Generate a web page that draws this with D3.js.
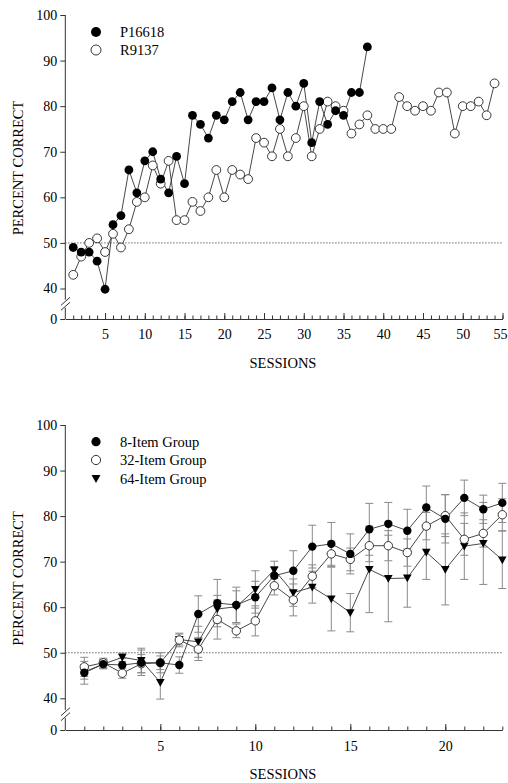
<!DOCTYPE html>
<html>
<head>
<meta charset="utf-8">
<script src="https://cdn.jsdelivr.net/npm/d3@7"></script>
<style>
  body { margin: 0; background: #fff; }
  svg text { font-family: "Liberation Serif", "Times New Roman", serif; }
</style>
</head>
<body>
<div id="chart"></div>
<script>
// --- top panel: two subjects
var topSeriesNames = ['P16618', 'R9137'];
var p16618 = [49,48,48,46,39,54,56,66,61,68,70,64,61,69,63,78,76,73,78,77,81,83,77,81,81,84,77,83,80,85,72,81,76,79,78,83,83,93];
var r9137 = [43,47,50,51,48,52,49,53,59,60,67,63,68,55,55,59,57,60,66,60,66,65,64,73,72,69,75,69,73,80,69,75,81,80,79,74,76,78,75,75,75,82,80,79,80,79,83,83,74,80,80,81,78,85];
var topXTicks = [5,10,15,20,25,30,35,40,45,50,55];

// --- bottom panel: group means and error
var groupNames = ['8-Item Group', '32-Item Group', '64-Item Group'];
var group8 = [45.6,47.5,47.3,47.8,47.8,47.3,58.5,60.9,60.5,62.2,66.9,68.0,73.3,73.9,71.7,77.1,78.3,76.8,81.9,79.4,84.0,81.5,82.9];
var err8 = [2.5,1.0,1.5,2.8,1.5,1.8,4.0,5.2,3.9,3.5,2.0,4.4,4.7,4.7,4.4,5.7,4.7,4.7,4.7,5.3,3.9,3.1,4.3];
var group32 = [46.9,47.8,45.5,47.6,47.8,52.8,50.8,57.3,54.8,57.0,64.7,61.6,66.8,71.7,70.5,73.5,73.5,72.0,77.8,80.1,74.9,76.2,80.3];
var err32 = [2.1,1.0,1.1,2.0,2.2,1.5,2.5,4.3,1.5,3.3,2.0,3.5,2.5,2.8,2.5,3.5,3.3,3.0,3.0,4.6,3.5,3.0,3.5];
var group64 = [45.8,47.5,49.0,48.3,43.5,52.9,52.4,59.6,60.1,63.9,68.2,63.2,64.4,61.8,58.8,68.3,66.3,66.4,72.1,68.3,73.4,74.0,70.4];
var err64 = [1.6,1.0,0.9,2.7,4.5,1.2,3.4,3.0,3.5,4.1,1.9,3.0,3.5,7.0,4.2,9.5,9.5,6.4,6.0,7.8,7.3,9.0,6.3];
var bottomXTicks = [5,10,15,20];

var yTicks = [0,40,50,60,70,80,90,100];
var chance = 50;

var W = 508, H = 783;
var svg = d3.select('#chart').append('svg')
  .attr('width', W)
  .attr('height', H);

var font = '"Liberation Serif", "Times New Roman", serif';

function panel(opt) {
  var g = svg.append('g');

  var x = d3.scaleLinear().domain([0, opt.xMax]).range([65.3, opt.xRight]);
  // broken axis: 0 sits below 40
  var y = d3.scaleLinear().domain([0, 40, 100]).range([opt.y0, opt.y40, opt.y100]);

  // y axis
  var yAxis = d3.axisLeft(y).tickValues(yTicks).tickSize(5).tickPadding(3);
  var yG = g.append('g')
    .attr('transform', 'translate(65.3,0)')
    .call(yAxis);
  yG.select('.domain').remove();
  yG.selectAll('text').style('font-size', '14px').style('font-family', font);
  yG.selectAll('line').attr('stroke', '#333');

  var breakY = (opt.y0 + opt.y40) / 2;
  g.append('line')
    .attr('x1', 65.3).attr('x2', 65.3)
    .attr('y1', opt.y100).attr('y2', breakY - 4)
    .attr('stroke', '#333');
  g.append('line')
    .attr('x1', 65.3).attr('x2', 65.3)
    .attr('y1', breakY + 4).attr('y2', opt.y0)
    .attr('stroke', '#333');
  [-2.5, 2.5].forEach(function(o) {
    g.append('line')
      .attr('x1', 61).attr('y1', breakY + o + 4)
      .attr('x2', 70).attr('y2', breakY + o - 4)
      .attr('stroke', '#333');
  });

  // x axis, minor then major
  var minor = d3.axisBottom(x).tickValues(d3.range(1, opt.xMax + 1))
    .tickSize(-3.5).tickSizeOuter(0).tickFormat('');
  var mG = g.append('g')
    .attr('transform', 'translate(0,' + opt.y0 + ')')
    .call(minor);
  mG.selectAll('line').attr('stroke', '#333');
  mG.select('.domain').attr('stroke', '#333');

  var major = d3.axisBottom(x).tickValues(opt.xTicks)
    .tickSize(-6).tickSizeOuter(0).tickPadding(opt.pad);
  var xG = g.append('g')
    .attr('transform', 'translate(0,' + opt.y0 + ')')
    .call(major);
  xG.select('.domain').remove();
  xG.selectAll('line').attr('stroke', '#333');
  xG.selectAll('text').style('font-size', '14px').style('font-family', font);
  // keep the last label inside the page
  xG.selectAll('text').filter(function(d) { return x(d) > W - 10; })
    .attr('text-anchor', 'end').attr('x', W - 1 - x(opt.xMax));

  // chance line
  g.append('line')
    .attr('x1', x(0)).attr('x2', x(opt.xMax))
    .attr('y1', y(chance)).attr('y2', y(chance))
    .attr('stroke', '#444')
    .attr('stroke-width', 1)
    .attr('stroke-dasharray', '1.2,1.8');

  // titles
  g.append('text')
    .attr('x', 283).attr('y', opt.y0 + 49)
    .attr('text-anchor', 'middle')
    .style('font-size', '14.5px')
    .text('SESSIONS');
  g.append('text')
    .attr('transform', 'translate(23,' + ((opt.y100 + opt.y0) / 2 + 1) + ') rotate(-90)')
    .attr('text-anchor', 'middle')
    .style('font-size', '14.5px')
    .text('PERCENT CORRECT');

  return { g: g, x: x, y: y };
}

function tri(cx, cy, s) {
  return 'M' + (cx - s) + ',' + (cy - s * 0.8) + 'L' + (cx + s) + ',' + (cy - s * 0.8) + 'L' + cx + ',' + (cy + s) + 'Z';
}

// ---------- top
var P1 = panel({ xMax: 55, xRight: 502.5, y0: 319, y40: 288.5, y100: 15, xTicks: topXTicks, pad: 10 });

var line1 = d3.line()
  .x(function(d, i) { return P1.x(i + 1); })
  .y(function(d) { return P1.y(d); });

[r9137, p16618].forEach(function(s) {
  P1.g.append('path')
    .attr('d', line1(s))
    .attr('fill', 'none')
    .attr('stroke', '#333')
    .attr('stroke-width', 0.9);
});

P1.g.append('g').selectAll('circle')
  .data(r9137).enter().append('circle')
  .attr('cx', function(d, i) { return P1.x(i + 1); })
  .attr('cy', function(d) { return P1.y(d); })
  .attr('r', 4.4)
  .attr('fill', '#fff').attr('stroke', '#222').attr('stroke-width', 0.9);

P1.g.append('g').selectAll('circle')
  .data(p16618).enter().append('circle')
  .attr('cx', function(d, i) { return P1.x(i + 1); })
  .attr('cy', function(d) { return P1.y(d); })
  .attr('r', 4.4)
  .attr('fill', '#000');

// legend top
P1.g.append('circle').attr('cx', 96).attr('cy', 32).attr('r', 5).attr('fill', '#000');
P1.g.append('circle').attr('cx', 96).attr('cy', 50).attr('r', 5)
  .attr('fill', '#fff').attr('stroke', '#222').attr('stroke-width', 0.9);
P1.g.append('text').attr('x', 120).attr('y', 37).style('font-size', '14.5px').text(topSeriesNames[0]);
P1.g.append('text').attr('x', 120).attr('y', 55).style('font-size', '14.5px').text(topSeriesNames[1]);

// ---------- bottom
var P2 = panel({ xMax: 23, xRight: 502.3, y0: 730, y40: 698.3, y100: 425, xTicks: bottomXTicks, pad: 11 });

var groups = [
  { v: group8, e: err8 },
  { v: group32, e: err32 },
  { v: group64, e: err64 }
];

// error bars
var eb = P2.g.append('g').attr('stroke', '#8a8a8a').attr('stroke-width', 1);
groups.forEach(function(gr) {
  gr.v.forEach(function(v, i) {
    var cx = P2.x(i + 1), yt = P2.y(v + gr.e[i]), yb = P2.y(v - gr.e[i]);
    eb.append('line').attr('x1', cx).attr('x2', cx).attr('y1', yt).attr('y2', yb);
    eb.append('line').attr('x1', cx - 4).attr('x2', cx + 4).attr('y1', yt).attr('y2', yt);
    eb.append('line').attr('x1', cx - 4).attr('x2', cx + 4).attr('y1', yb).attr('y2', yb);
  });
});

var line2 = d3.line()
  .x(function(d, i) { return P2.x(i + 1); })
  .y(function(d) { return P2.y(d); });

groups.forEach(function(gr) {
  P2.g.append('path')
    .attr('d', line2(gr.v))
    .attr('fill', 'none')
    .attr('stroke', '#333')
    .attr('stroke-width', 0.9);
});

P2.g.append('g').selectAll('path')
  .data(group64).enter().append('path')
  .attr('d', function(d, i) { return tri(P2.x(i + 1), P2.y(d), 4.3); })
  .attr('fill', '#000');

P2.g.append('g').selectAll('circle')
  .data(group32).enter().append('circle')
  .attr('cx', function(d, i) { return P2.x(i + 1); })
  .attr('cy', function(d) { return P2.y(d); })
  .attr('r', 4.2)
  .attr('fill', '#fff').attr('stroke', '#222').attr('stroke-width', 0.9);

P2.g.append('g').selectAll('circle')
  .data(group8).enter().append('circle')
  .attr('cx', function(d, i) { return P2.x(i + 1); })
  .attr('cy', function(d) { return P2.y(d); })
  .attr('r', 4.2)
  .attr('fill', '#000');

// legend bottom
P2.g.append('circle').attr('cx', 96).attr('cy', 441.7).attr('r', 4.6).attr('fill', '#000');
P2.g.append('circle').attr('cx', 96).attr('cy', 460).attr('r', 4.6)
  .attr('fill', '#fff').attr('stroke', '#222').attr('stroke-width', 0.9);
P2.g.append('path').attr('d', tri(96, 478.5, 4.5)).attr('fill', '#000');
[441.7, 460, 478.5].forEach(function(cy, i) {
  P2.g.append('text').attr('x', 120).attr('y', cy + 5).style('font-size', '14.5px').text(groupNames[i]);
});
</script>
</body>
</html>
